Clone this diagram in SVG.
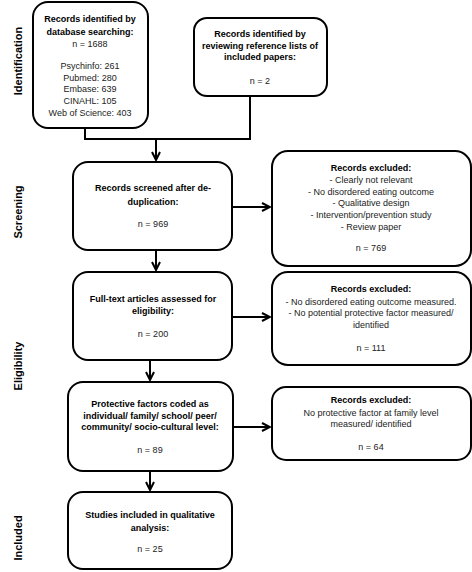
<svg xmlns="http://www.w3.org/2000/svg" width="472" height="572" viewBox="0 0 472 572">
<defs>
<marker id="ah" viewBox="0 0 10 10" refX="9" refY="5" markerWidth="5" markerHeight="5" markerUnits="strokeWidth" orient="auto">
<path d="M1,1 L9,5 L1,9" fill="none" stroke="#000" stroke-width="2"/>
</marker>
</defs>
<style>
.box{fill:#fff;stroke:#000;stroke-width:2}
text{font-family:"Liberation Sans",Arial,sans-serif;font-size:9px;fill:#222;text-anchor:middle}
.b{font-weight:bold;fill:#000}
.stage{font-family:"Liberation Sans",Arial,sans-serif;font-size:11px;font-weight:bold;fill:#000}
.c{fill:none;stroke:#000;stroke-width:2}
</style>
<rect width="472" height="572" fill="#fff"/>
<g id="stages">
<text class="stage" transform="translate(22,61) rotate(-90)">Identification</text>
<text class="stage" transform="translate(22,212) rotate(-90)">Screening</text>
<text class="stage" transform="translate(22,366) rotate(-90)">Eligibility</text>
<text class="stage" transform="translate(22,538) rotate(-90)">Included</text>
</g>
<g id="connectors">
<path class="c" d="M85,128 V139 H250 V96"/>
<path class="c" d="M156,139 V160" marker-end="url(#ah)"/>
<path class="c" d="M156,250 V270" marker-end="url(#ah)"/>
<path class="c" d="M150,360 V380" marker-end="url(#ah)"/>
<path class="c" d="M150,471 V490" marker-end="url(#ah)"/>
<path class="c" d="M232,207 H270" marker-end="url(#ah)"/>
<path class="c" d="M232,317 H270" marker-end="url(#ah)"/>
<path class="c" d="M233,427 H270" marker-end="url(#ah)"/>
</g>
<g id="db">
<rect class="box" x="33" y="2" width="115" height="126" rx="15"/>
<text class="b" x="90" y="22">Records identified by</text>
<text class="b" x="90" y="35">database searching:</text>
<text x="90" y="47">n = 1688</text>
<text x="90" y="69">Psychinfo:  261</text>
<text x="90" y="81">Pubmed: 280</text>
<text x="90" y="92">Embase: 639</text>
<text x="90" y="104">CINAHL: 105</text>
<text x="90" y="116">Web of Science:  403</text>
</g>
<g id="refs">
<rect class="box" x="194" y="18" width="133" height="78" rx="13"/>
<text class="b" x="260" y="37">Records identified by</text>
<text class="b" x="260" y="49">reviewing reference lists of</text>
<text class="b" x="260" y="60">included papers:</text>
<text x="260" y="84">n = 2</text>
</g>
<g id="screened">
<rect class="box" x="73" y="162" width="159" height="88" rx="15"/>
<text class="b" x="153" y="191">Records screened after de-</text>
<text class="b" x="153" y="205">duplication:</text>
<text x="153" y="227">n = 969</text>
</g>
<g id="fulltext">
<rect class="box" x="73" y="272" width="159" height="88" rx="15"/>
<text class="b" x="153" y="302">Full-text articles assessed for</text>
<text class="b" x="153" y="314">eligibility:</text>
<text x="153" y="337">n = 200</text>
</g>
<g id="coded">
<rect class="box" x="68" y="382" width="165" height="89" rx="15"/>
<text class="b" x="150" y="407">Protective factors coded as</text>
<text class="b" x="150" y="419">individual/ family/ school/ peer/</text>
<text class="b" x="150" y="430">community/ socio-cultural level:</text>
<text x="150" y="453">n = 89</text>
</g>
<g id="included">
<rect class="box" x="68" y="492" width="164" height="77" rx="15"/>
<text class="b" x="150" y="518">Studies included in qualitative</text>
<text class="b" x="150" y="531">analysis:</text>
<text x="150" y="552">n = 25</text>
</g>
<g id="excl1">
<rect class="box" x="272" y="151" width="199" height="115" rx="16"/>
<text class="b" x="371" y="171">Records excluded:</text>
<text x="371" y="183">-  Clearly not relevant</text>
<text x="371" y="195">- No disordered eating outcome</text>
<text x="371" y="206">- Qualitative design</text>
<text x="371" y="218">- Intervention/prevention study</text>
<text x="371" y="230">- Review paper</text>
<text x="371" y="251">n = 769</text>
</g>
<g id="excl2">
<rect class="box" x="272" y="272" width="199" height="93" rx="16"/>
<text class="b" x="371" y="292">Records excluded:</text>
<text x="371" y="305">- No disordered eating outcome measured.</text>
<text x="371" y="316">- No potential protective factor measured/</text>
<text x="371" y="328">identified</text>
<text x="371" y="351">n =  111</text>
</g>
<g id="excl3">
<rect class="box" x="272" y="387" width="199" height="73" rx="14"/>
<text class="b" x="371" y="403">Records excluded:</text>
<text x="371" y="416">No protective factor at family level</text>
<text x="371" y="427">measured/ identified</text>
<text x="371" y="450">n =  64</text>
</g>
</svg>
